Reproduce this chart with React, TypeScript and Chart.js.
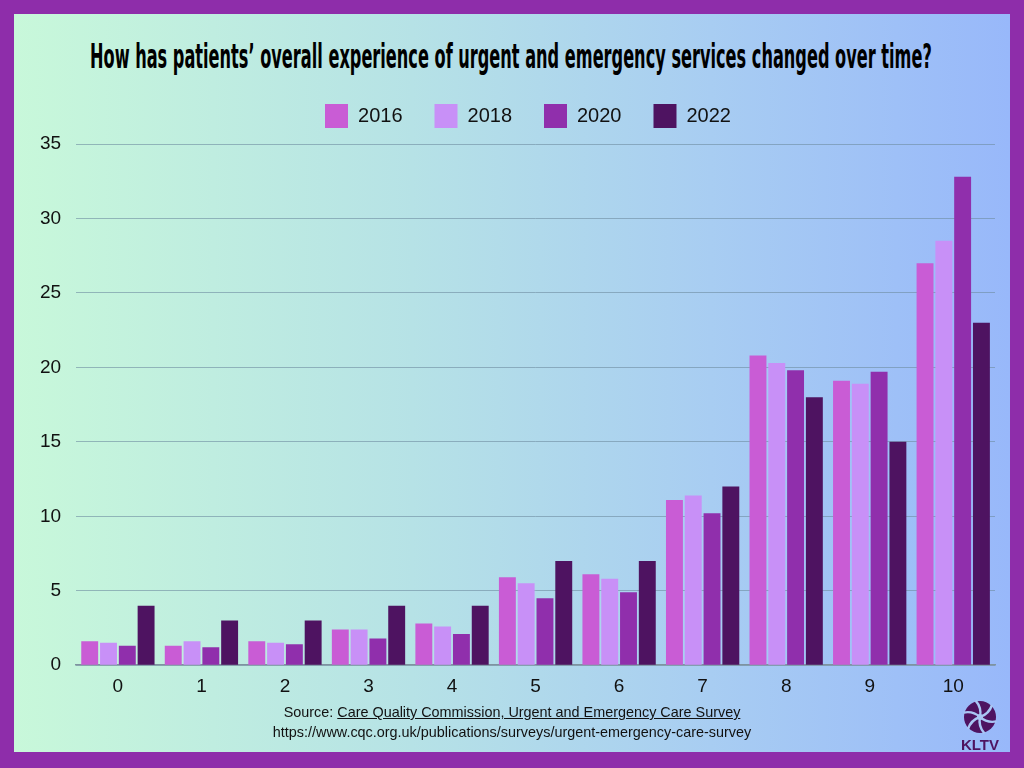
import React, { useEffect, useRef } from "react";
import { Chart, registerables } from "chart.js";

Chart.register(...registerables);

const categories = ["0", "1", "2", "3", "4", "5", "6", "7", "8", "9", "10"];
const seriesNames = ["2016", "2018", "2020", "2022"];
const values2016 = [1.6, 1.3, 1.6, 2.4, 2.8, 5.9, 6.1, 11.1, 20.8, 19.1, 27.0];
const values2018 = [1.5, 1.6, 1.5, 2.4, 2.6, 5.5, 5.8, 11.4, 20.3, 18.9, 28.5];
const values2020 = [1.3, 1.2, 1.4, 1.8, 2.1, 4.5, 4.9, 10.2, 19.8, 19.7, 32.8];
const values2022 = [4.0, 3.0, 3.0, 4.0, 4.0, 7.0, 7.0, 12.0, 18.0, 15.0, 23.0];
const seriesColors = ["#C95CD5", "#C890F7", "#902FAC", "#4E1361"];

const TITLE = "How has patients’ overall experience of urgent and emergency services changed over time?";

const legendTweak = {
  id: "legendTweak",
  beforeInit(chart: any) {
    const legend = chart.legend;
    if (!legend) return;
    const origFit = legend.fit;
    legend.fit = function () {
      origFit.call(this);
      this.height += 6;
    };
  },
  afterLayout(chart: any) {
    const legend = chart.legend;
    if (!legend) return;
    legend.left += 18;
    legend.right += 18;
  },
};

export default function App() {
  const canvasRef = useRef<HTMLCanvasElement | null>(null);
  const titleRef = useRef<HTMLSpanElement | null>(null);

  useEffect(() => {
    document.body.style.margin = "0";
    const t = titleRef.current;
    if (t) {
      t.style.transform = "none";
      const w = t.offsetWidth;
      if (w > 0) t.style.transform = `scaleX(${842 / w})`;
    }
    const canvas = canvasRef.current;
    if (!canvas) return;
    const allValues = [values2016, values2018, values2020, values2022];
    const chart = new Chart(canvas, {
      type: "bar",
      data: {
        labels: categories,
        datasets: seriesNames.map((name, i) => ({
          label: name,
          data: allValues[i],
          backgroundColor: seriesColors[i],
          borderWidth: 0,
          categoryPercentage: 0.9,
          barPercentage: 0.9,
        })),
      },
      plugins: [legendTweak],
      options: {
        animation: false,
        responsive: false,
        maintainAspectRatio: false,
        layout: { padding: { left: 11, right: 15, top: 0, bottom: 0 } },
        plugins: {
          tooltip: { enabled: false },
          legend: {
            position: "top",
            labels: {
              boxWidth: 23,
              boxHeight: 24,
              padding: 32,
              color: "#111",
              font: { family: "'Liberation Sans', Arial, sans-serif", size: 20 },
            },
          },
        },
        scales: {
          x: {
            grid: { display: false, drawTicks: false },
            border: { display: true, color: "#7f93a0", width: 1.5 },
            ticks: {
              color: "#111",
              padding: 10,
              font: { family: "'Liberation Sans', Arial, sans-serif", size: 19 },
            },
          },
          y: {
            min: 0,
            max: 35,
            grid: { color: "rgba(110,140,160,0.6)", drawTicks: false, lineWidth: 1 },
            border: { display: false },
            ticks: {
              stepSize: 5,
              color: "#111",
              padding: 15,
              font: { family: "'Liberation Sans', Arial, sans-serif", size: 19 },
            },
          },
        },
      },
    });
    return () => chart.destroy();
  }, []);

  return (
    <div
      style={{
        position: "fixed",
        left: 0,
        top: 0,
        width: 1024,
        height: 768,
        background: "#8E2DAA",
        overflow: "hidden",
      }}
    >
      <div
        style={{
          position: "absolute",
          left: 14,
          top: 14,
          width: 996,
          height: 738,
          background: "linear-gradient(to right, #C8F8DA 0%, #B6E2E6 40%, #A8CDF2 70%, #98B8FA 100%)",
        }}
      >
        <span
          ref={titleRef}
          style={{
            position: "absolute",
            left: 76,
            top: 23,
            display: "inline-block",
            whiteSpace: "nowrap",
            fontFamily: "'Liberation Sans Narrow', 'DejaVu Sans Condensed', 'Liberation Sans', sans-serif",
            fontWeight: 700,
            fontSize: 34,
            color: "#000",
            transformOrigin: "left center",
            lineHeight: "38px",
          }}
        >
          {TITLE}
        </span>
        <canvas
          ref={canvasRef}
          width={996}
          height={636}
          style={{ position: "absolute", left: 0, top: 58, width: 996, height: 636 }}
        />
        <div
          style={{
            position: "absolute",
            left: 0,
            top: 688,
            width: 996,
            textAlign: "center",
            fontFamily: "'Liberation Sans Narrow', 'Liberation Sans', Arial, sans-serif",
            fontSize: 14.4,
            color: "#111",
            lineHeight: "20px",
          }}
        >
          <div>
            Source: <span style={{ textDecoration: "underline" }}>Care Quality Commission, Urgent and Emergency Care Survey</span>
          </div>
          <div>https://www.cqc.org.uk/publications/surveys/urgent-emergency-care-survey</div>
        </div>
        <div style={{ position: "absolute", left: 946, top: 684, width: 40, textAlign: "center" }}>
          <svg width="40" height="38" viewBox="-20 -19 40 38">
            <circle cx="0" cy="0" r="16" fill="#4E1361" />
            {[0, 60, 120, 180, 240, 300].map((a) => (
              <path
                key={a}
                d="M 0 0 Q 9 -3 12 -12"
                stroke="#A9C6F4"
                strokeWidth="2.4"
                fill="none"
                transform={`rotate(${a})`}
              />
            ))}
            <circle cx="0" cy="0" r="3" fill="#A9C6F4" />
          </svg>
          <div
            style={{
              fontFamily: "'Liberation Sans', Arial, sans-serif",
              fontWeight: 700,
              fontSize: 15,
              color: "#4E1361",
              marginTop: -4,
            }}
          >
            KLTV
          </div>
        </div>
      </div>
    </div>
  );
}
